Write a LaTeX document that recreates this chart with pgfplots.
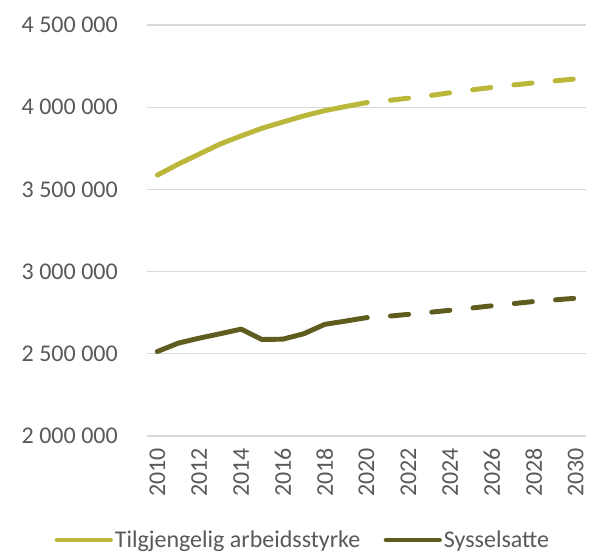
\documentclass[border=0pt]{standalone}
\usepackage{fontspec}
\setmainfont{Carlito}
\usepackage{pgfplots}
\pgfplotsset{compat=1.18}
\definecolor{lightolive}{HTML}{BBB73A}
\definecolor{darkolive}{HTML}{5E5C1F}
\definecolor{gridgray}{HTML}{D9D9D9}
\definecolor{textgray}{HTML}{595959}
\begin{document}
\begin{tikzpicture}
\useasboundingbox (0,0) rectangle (460.5pt,415.5pt);
\begin{axis}[
  at={(110.25pt,88.5pt)}, anchor=south west,
  scale only axis, width=329.25pt, height=308.25pt,
  xmin=2009.5, xmax=2030.5,
  ymin=2000000, ymax=4500000,
  xtick={2010,2012,...,2030},
  xticklabels={2010,2012,2014,2016,2018,2020,2022,2024,2026,2028,2030},
  ytick={2000000,2500000,3000000,3500000,4000000,4500000},
  yticklabels={2 000 000,2 500 000,3 000 000,3 500 000,4 000 000,4 500 000},
  scaled y ticks=false,
  axis line style={draw=none},
  major tick length=0pt,
  ymajorgrids, grid style={gridgray, line width=0.8pt},
  tick label style={font=\fontsize{18}{21}\selectfont, text=textgray},
  yticklabel style={inner sep=0pt, anchor=east},
  yticklabel shift=21.75pt,
  xticklabel style={inner sep=0pt, rotate=90, anchor=east},
  xticklabel shift=9pt,
  legend style={at={(0.355,-0.253)}, anchor=center, draw=none, fill=none,
    font=\fontsize{18}{21}\selectfont, text=textgray, legend columns=2,
    nodes={inner xsep=1.5pt},
    /tikz/every even column/.append style={column sep=16pt}},
  legend cell align=left,
  legend image code/.code={\draw[#1, line cap=round] (0pt,0pt) -- (40pt,0pt);},
]
\addplot[lightolive, line width=3.7pt, line cap=round, line join=round] coordinates {
(2010,3587000) (2011,3654000) (2012,3715000) (2013,3776000) (2014,3825000)
(2015,3872000) (2016,3910000) (2017,3947000) (2018,3979000) (2019,4004000) (2020,4028000)};
\addlegendentry{Tilgjengelig arbeidsstyrke}
\addplot[darkolive, line width=3.7pt, line cap=round, line join=round] coordinates {
(2010,2514000) (2011,2565000) (2012,2595000) (2013,2622000) (2014,2650000)
(2015,2587000) (2016,2589000) (2017,2622000) (2018,2679000) (2019,2699000) (2020,2720000)};
\addlegendentry{Sysselsatte}
\addplot[forget plot, lightolive, line width=3.7pt, line cap=round, dash pattern=on 13.7pt off 17.4pt, dash phase=13.1pt] coordinates {
(2020,4028000) (2021,4040000) (2022,4055000) (2023,4070000) (2024,4088000) (2025,4105000)
(2026,4120000) (2027,4135000) (2028,4148000) (2029,4160000) (2030,4172000)};
\addplot[forget plot, darkolive, line width=3.7pt, line cap=round, dash pattern=on 13.7pt off 17.4pt, dash phase=13.1pt] coordinates {
(2020,2720000) (2021,2728000) (2022,2740000) (2023,2752000) (2024,2765000) (2025,2778000)
(2026,2792000) (2027,2805000) (2028,2818000) (2029,2828000) (2030,2838000)};
\end{axis}
\end{tikzpicture}
\end{document}
